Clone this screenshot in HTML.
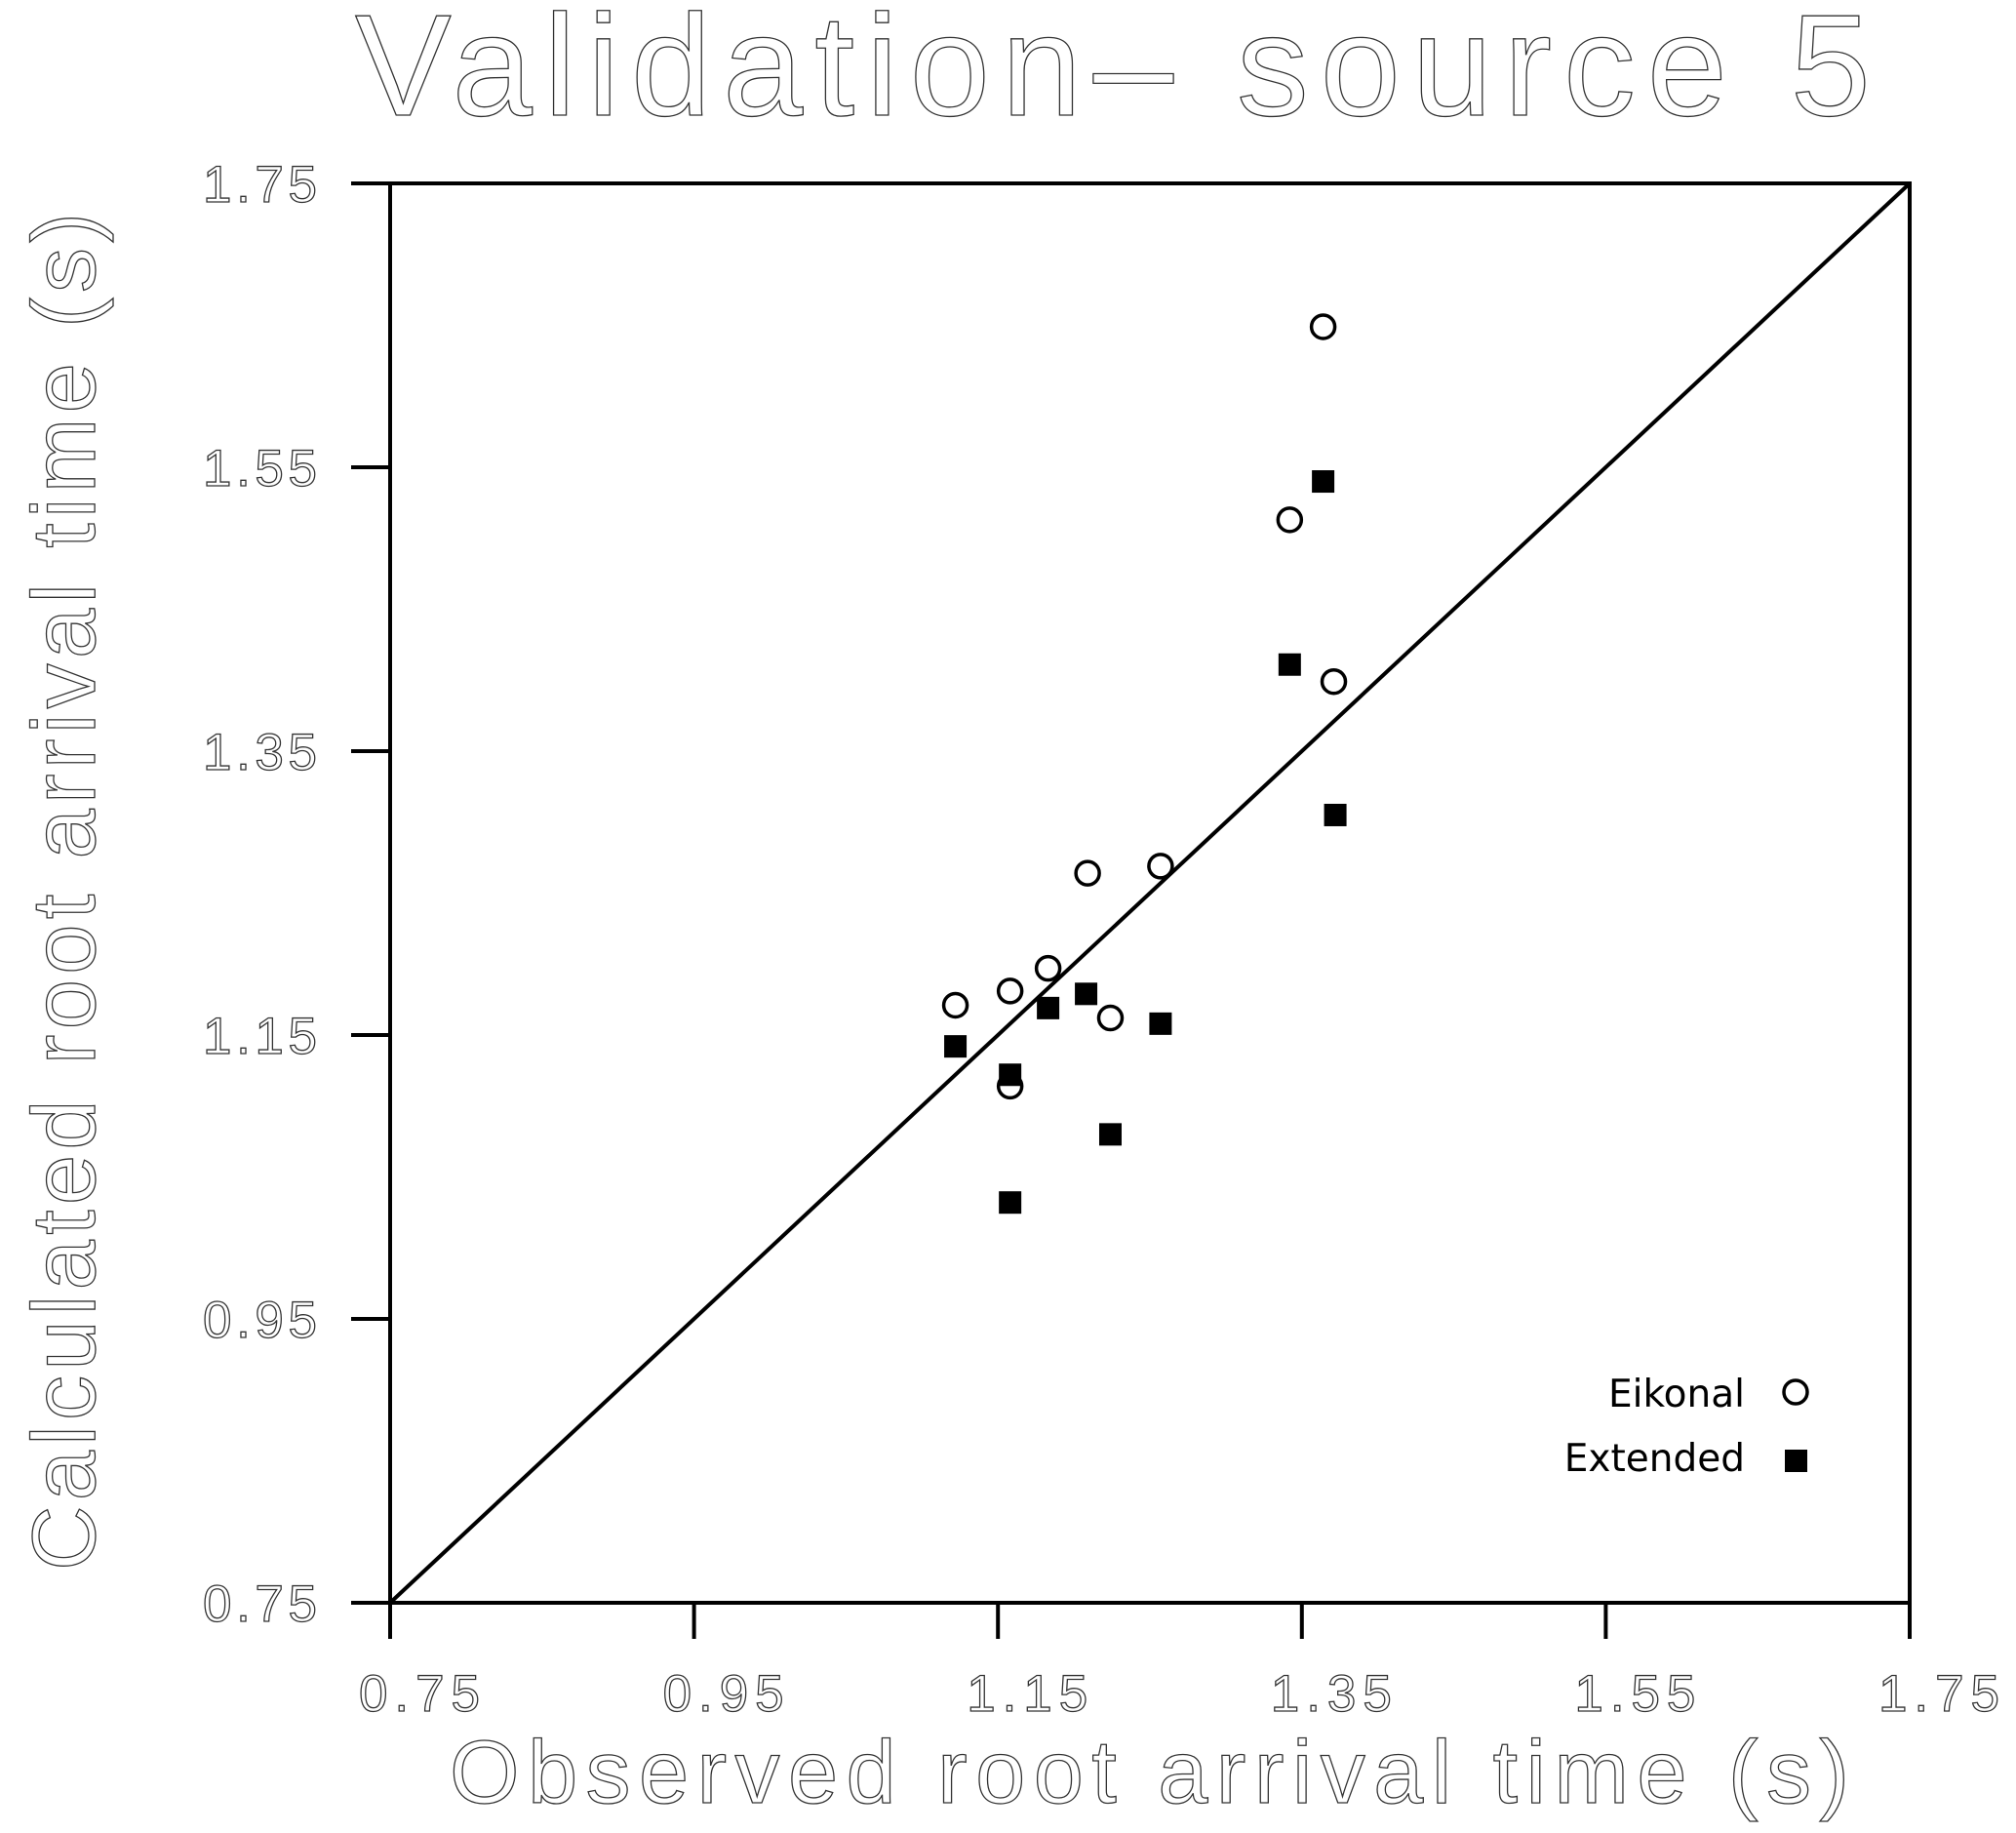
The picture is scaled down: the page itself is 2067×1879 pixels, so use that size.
<!DOCTYPE html>
<html><head><meta charset="utf-8"><style>
html,body{margin:0;padding:0;background:#fff;}
svg{display:block;}
.thin{font-family:"Liberation Sans","DejaVu Sans",sans-serif;font-weight:normal;fill:#fff;stroke:#333;stroke-width:1.3;}
</style></head><body>
<svg id="chart" width="2067" height="1879" viewBox="0 0 2067 1879" xmlns="http://www.w3.org/2000/svg">
<text class="thin" x="364" y="118" font-size="148" textLength="1554" lengthAdjust="spacing">Validation– source 5</text>
<text class="thin" x="461" y="1848" font-size="92" textLength="1435" lengthAdjust="spacing">Observed root arrival time (s)</text>
<text class="thin" transform="translate(97,1610) rotate(-90)" x="0" y="0" font-size="92" textLength="1392" lengthAdjust="spacing">Calculated root arrival time (s)</text>
<g id="axes"></g>
<g id="marks"></g>
<g>
<text x="1789" y="1442" font-family="DejaVu Sans, sans-serif" font-size="39" text-anchor="end">Eikonal</text>
<circle cx="1841" cy="1427" r="12" fill="none" stroke="#000" stroke-width="3.5"/>
<text x="1789" y="1508" font-family="DejaVu Sans, sans-serif" font-size="39" text-anchor="end">Extended</text>
<rect x="1830" y="1486" width="23" height="23" fill="#000"/>
</g>
</svg>
<script>
const ticks = [0.75, 0.95, 1.15, 1.35, 1.55, 1.75];
const tickLabels = ["0.75","0.95","1.15","1.35","1.55","1.75"];
const eikonalX = [1.122, 1.158, 1.183, 1.224, 1.158, 1.364, 1.342, 1.371, 1.209, 1.257];
const eikonalY = [1.171, 1.181, 1.197, 1.162, 1.114, 1.649, 1.513, 1.399, 1.264, 1.269];
const extendedX = [1.122, 1.183, 1.208, 1.257, 1.158, 1.224, 1.158, 1.364, 1.342, 1.372];
const extendedY = [1.142, 1.169, 1.179, 1.158, 1.122, 1.080, 1.032, 1.540, 1.411, 1.305];

const L=400,R=1958,T=188,B=1643,MIN=0.75,MAX=1.75;
function sx(v){return L+(v-MIN)/(MAX-MIN)*(R-L);}
function sy(v){return B-(v-MIN)/(MAX-MIN)*(B-T);}
const NS="http://www.w3.org/2000/svg";
function mk(tag,attrs,parent){const e=document.createElementNS(NS,tag);for(const k in attrs)e.setAttribute(k,attrs[k]);parent.appendChild(e);return e;}
const axes=document.getElementById('axes'), marks=document.getElementById('marks');
let e=mk('rect',{x:L,y:T,width:R-L,height:B-T,fill:'none',stroke:'#000','stroke-width':4},axes);


ticks.forEach((t,i)=>{
  let a=mk('line',{x1:sx(t),x2:sx(t),y1:B,y2:B+37,stroke:'#000','stroke-width':4},axes);
  
  
  let b=mk('line',{x1:L-40,x2:L,y1:sy(t),y2:sy(t),stroke:'#000','stroke-width':4},axes);
  
  
  let tx=mk('text',{x:sx(t)-32,y:1754,'font-size':53,class:'thin',textLength:124,lengthAdjust:'spacing'},axes);
  tx.textContent=tickLabels[i];
  
  
  let ty=mk('text',{x:208,y:sy(t)+19,'font-size':53,class:'thin',textLength:117,lengthAdjust:'spacing'},axes);
  ty.textContent=tickLabels[i];
  
  
});
let d=mk('line',{x1:sx(MIN),y1:sy(MIN),x2:sx(MAX),y2:sy(MAX),stroke:'#000','stroke-width':4},marks);


eikonalX.forEach((x,i)=>{
  let c=mk('circle',{cx:sx(x),cy:sy(eikonalY[i]),r:12,fill:'none',stroke:'#000','stroke-width':3.5},marks);
  
  
});
extendedX.forEach((x,i)=>{
  let r=mk('rect',{x:sx(x)-11.5,y:sy(extendedY[i])-11.5,width:23,height:23,fill:'#000'},marks);
  
  
});
</script>
</body></html>
